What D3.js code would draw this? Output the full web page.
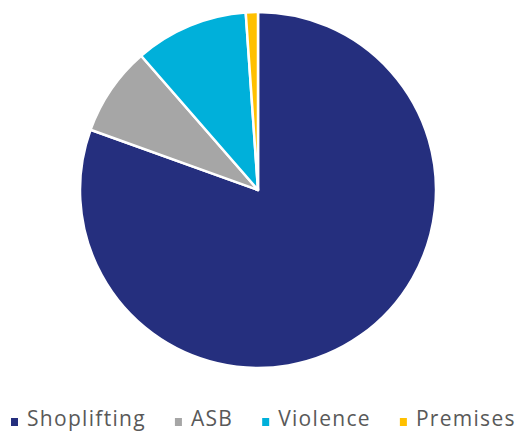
<!DOCTYPE html>
<html>
<head>
<meta charset="utf-8">
<script src="https://cdn.jsdelivr.net/npm/d3@7"></script>
<style>
  body { margin: 0; background: #fff; }
  text { font-family: "Open Sans", sans-serif; }
</style>
</head>
<body>
<svg id="chart"></svg>
<script>
// data (share of incidents, %)
var categories = ["Shoplifting", "ASB", "Violence", "Premises"]
var values = [80.5, 8.1, 10.3, 1.1]
var colours = ["#252f7e", "#a6a6a6", "#00b0da", "#ffc000"]

var screen = {width: 524, height: 432}
var centre = {x: 258, y: 190}
var radius = 178

var svg = d3.select("#chart")
    .attr("width", screen.width)
    .attr("height", screen.height)

var cScale = d3.scaleOrdinal().domain(categories).range(colours)

var rows = categories.map(function(c, i) { return {name: c, value: values[i]} })

var pie = d3.pie()
    .value(function(d) { return d.value })
    .sort(null)

var arc = d3.arc()
    .innerRadius(0)
    .outerRadius(radius)

svg.append("g")
    .attr("transform", "translate(" + centre.x + "," + centre.y + ")")
    .selectAll("path")
    .data(pie(rows))
    .enter()
    .append("path")
    .attr("d", arc)
    .attr("fill", function(d) { return cScale(d.data.name) })
    .attr("stroke", "#fff")
    .attr("stroke-width", 2.5)
    .attr("stroke-linejoin", "round")

// legend along the bottom
var legend = svg.append("g").attr("id", "legend")
var x = 11
rows.forEach(function(d, i) {
    var g = legend.append("g").attr("transform", "translate(" + x + ",0)")
    g.append("rect")
        .attr("x", 0).attr("y", 418)
        .attr("width", 7).attr("height", 8)
        .attr("fill", cScale(d.name))
    var t = g.append("text")
        .attr("x", 16).attr("y", 426)
        .attr("font-size", 21)
        .attr("letter-spacing", 1.3)
        .attr("fill", "#595959")
        .text(d.name)
    x += 16 + t.node().getComputedTextLength() + 29
})
</script>
</body>
</html>
